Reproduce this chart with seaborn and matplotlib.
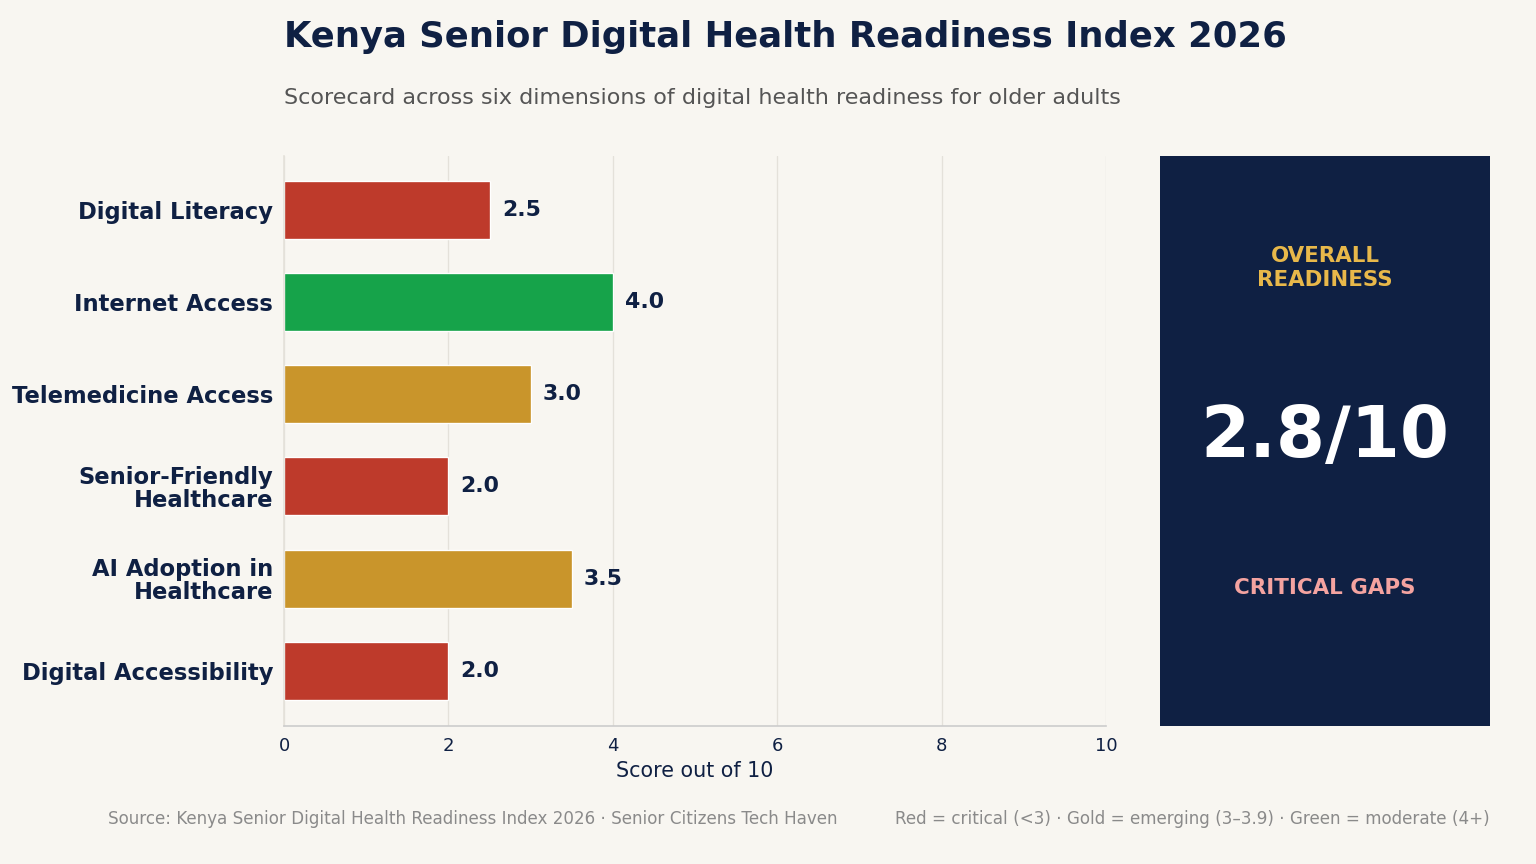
import matplotlib
matplotlib.use("Agg")
import matplotlib.pyplot as plt
import seaborn as sns
import pandas as pd

categories = ["Digital Literacy", "Internet Access", "Telemedicine Access",
              "Senior-Friendly\nHealthcare", "AI Adoption in\nHealthcare", "Digital Accessibility"]
scores = [2.5, 4.0, 3.0, 2.0, 3.5, 2.0]
overall = "2.8/10"

RED, GOLD, GREEN, NAVY, BG = "#BE3A2B", "#C9952B", "#16A34A", "#0F2043", "#F8F6F1"
def col(v):
    return RED if v < 3 else (GOLD if v < 4 else GREEN)

sns.set_theme(style="white")
plt.rcParams['font.family'] = ['DejaVu Sans']

fig = plt.figure(figsize=(16, 9), dpi=96, facecolor=BG)
ax = fig.add_axes([284/1536, 138/864, 822/1536, 570/864], facecolor=BG)
df = pd.DataFrame({"cat": categories, "score": scores})
sns.barplot(data=df, y="cat", x="score", hue="cat", palette=[col(v) for v in scores],
            legend=False, ax=ax, width=0.63, saturation=1)
ax.set_xlim(0, 10)
ax.set_ylim(5.6, -0.585)
ax.set_xticks([0, 2, 4, 6, 8, 10])
ax.grid(axis="x", color="#E4E1DA", lw=1)
ax.set_axisbelow(True)
for s in ["top", "right"]:
    ax.spines[s].set_visible(False)
ax.spines["left"].set_color("#E4E1DA")
ax.spines["bottom"].set_color("#CCCCCC")
ax.set_ylabel("")
ax.set_xlabel("Score out of 10", fontsize=15.5, color=NAVY)
ax.tick_params(axis="x", labelsize=13.5, colors=NAVY, length=5, color="#CCCCCC")
ax.tick_params(axis="y", labelsize=17, length=4, color="#555", pad=4)
for t in ax.get_yticklabels():
    t.set_fontweight("bold"); t.set_color(NAVY); t.set_linespacing(1.0)
for i, v in enumerate(scores):
    ax.text(v + 0.15, i, f"{v:.1f}", va="center", ha="left", fontsize=16.5,
            fontweight="bold", color=NAVY)

fig.text(284/1536, 1-37/864, "Kenya Senior Digital Health Readiness Index 2026",
         fontsize=26.5, fontweight="bold", color=NAVY, va="center")
fig.text(284/1536, 1-98/864, "Scorecard across six dimensions of digital health readiness for older adults",
         fontsize=16.7, color="#555555", va="center")

pax = fig.add_axes([1160/1536, 138/864, 330/1536, 570/864], facecolor=NAVY)
pax.set_xticks([]); pax.set_yticks([])
for s in pax.spines.values():
    s.set_visible(False)
pax.set_xlim(0, 1); pax.set_ylim(0, 1)
pax.text(0.5, 1-(268-156)/570, "OVERALL\nREADINESS", ha="center", va="center",
         fontsize=16, fontweight="bold", color="#E8B84A", linespacing=1.2)
pax.text(0.5, 1-(437-156)/570, overall, ha="center", va="center",
         fontsize=53, fontweight="bold", color="white")
pax.text(0.5, 1-(588-156)/570, "CRITICAL GAPS", ha="center", va="center",
         fontsize=16, fontweight="bold", color="#F4A3A0")

fig.text(108/1536, 1-819/864,
         "Source: Kenya Senior Digital Health Readiness Index 2026 · Senior Citizens Tech Haven",
         fontsize=12.6, color="#8A8A8A", va="center")
fig.text(1490/1536, 1-819/864,
         "Red = critical (<3) · Gold = emerging (3–3.9) · Green = moderate (4+)",
         fontsize=12.6, color="#8A8A8A", va="center", ha="right")

fig.savefig("out.png", dpi=96, facecolor=BG)
